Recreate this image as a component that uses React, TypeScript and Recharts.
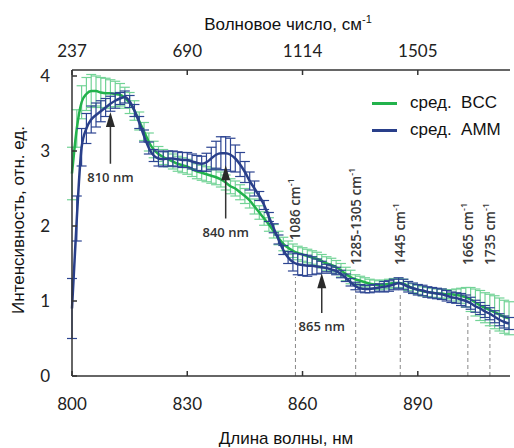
import {
  LineChart, Line, XAxis, YAxis, ErrorBar, ReferenceLine, ReferenceDot, Legend,
} from 'recharts';

// wavelength grid, nm
const WAVELENGTHS = [
  800, 801.25, 802.5, 803.75, 805, 806.25, 807.5, 808.75, 810, 811.25,
  812.5, 813.75, 815, 816.25, 817.5, 818.75, 820, 821.25, 822.5, 823.75,
  825, 826.25, 827.5, 828.75, 830, 831.25, 832.5, 833.75, 835, 836.25,
  837.5, 838.75, 840, 841.25, 842.5, 843.75, 845, 846.25, 847.5, 848.75,
  850, 851.25, 852.5, 853.75, 855, 856.25, 857.5, 858.75, 860, 861.25,
  862.5, 863.75, 865, 866.25, 867.5, 868.75, 870, 871.25, 872.5, 873.75,
  875, 876.25, 877.5, 878.75, 880, 881.25, 882.5, 883.75, 885, 886.25,
  887.5, 888.75, 890, 891.25, 892.5, 893.75, 895, 896.25, 897.5, 898.75,
  900, 901.25, 902.5, 903.75, 905, 906.25, 907.5, 908.75, 910, 911.25,
  912.5, 913.75,
];

const BCC_MEAN = [
  2.7, 3.3, 3.65, 3.76, 3.8, 3.8, 3.78, 3.77, 3.77, 3.76,
  3.75, 3.71, 3.64, 3.54, 3.4, 3.26, 3.12, 3.02, 2.96, 2.92,
  2.89, 2.86, 2.83, 2.81, 2.79, 2.76, 2.73, 2.71, 2.69, 2.67,
  2.65, 2.62, 2.58, 2.53, 2.5, 2.45, 2.4, 2.34, 2.26, 2.18,
  2.1, 2.02, 1.93, 1.84, 1.76, 1.71, 1.67, 1.64, 1.62, 1.6,
  1.58, 1.56, 1.53, 1.5, 1.48, 1.45, 1.41, 1.36, 1.32, 1.29,
  1.27, 1.25, 1.23, 1.22, 1.21, 1.22, 1.23, 1.24, 1.24, 1.23,
  1.2, 1.17, 1.15, 1.13, 1.12, 1.11, 1.1, 1.1, 1.09, 1.09,
  1.08, 1.07, 1.05, 1.02, 0.98, 0.94, 0.91, 0.88, 0.85, 0.82,
  0.79, 0.77,
];

const BCC_ERR = [
  0.35, 0.25, 0.22, 0.22, 0.22, 0.2, 0.2, 0.2, 0.18, 0.17,
  0.15, 0.14, 0.14, 0.13, 0.12, 0.12, 0.12, 0.11, 0.1, 0.1,
  0.1, 0.1, 0.1, 0.1, 0.1, 0.1, 0.1, 0.1, 0.1, 0.1,
  0.1, 0.1, 0.1, 0.1, 0.1, 0.1, 0.1, 0.1, 0.1, 0.09,
  0.09, 0.09, 0.09, 0.09, 0.09, 0.09, 0.09, 0.09, 0.09, 0.09,
  0.09, 0.09, 0.09, 0.09, 0.09, 0.09, 0.09, 0.09, 0.09, 0.06,
  0.06, 0.06, 0.06, 0.06, 0.06, 0.06, 0.06, 0.06, 0.06, 0.06,
  0.06, 0.06, 0.06, 0.06, 0.06, 0.06, 0.06, 0.06, 0.06, 0.06,
  0.08, 0.1, 0.13, 0.16, 0.18, 0.2, 0.2, 0.21, 0.22, 0.22,
  0.22, 0.22,
];

const AMM_MEAN = [
  0.9, 2.1, 3.05, 3.3, 3.42, 3.48, 3.53, 3.58, 3.63, 3.67,
  3.7, 3.72, 3.66, 3.54, 3.38, 3.2, 3.04, 2.94, 2.9, 2.89,
  2.9, 2.9, 2.89, 2.88, 2.88, 2.86, 2.84, 2.83, 2.85, 2.9,
  2.95, 2.97, 2.97, 2.95, 2.9, 2.82, 2.72, 2.6, 2.5, 2.4,
  2.28, 2.12, 1.97, 1.82, 1.68, 1.58, 1.52, 1.49, 1.48, 1.47,
  1.47, 1.46, 1.45, 1.44, 1.42, 1.4, 1.36, 1.31, 1.25, 1.2,
  1.17, 1.16, 1.16, 1.17, 1.18, 1.19, 1.2, 1.22, 1.24, 1.22,
  1.19, 1.17, 1.15, 1.14, 1.12, 1.11, 1.1, 1.09, 1.07, 1.05,
  1.04, 1.02, 1.0, 0.97, 0.93, 0.9, 0.86, 0.83, 0.79, 0.75,
  0.72, 0.7,
];

const AMM_ERR = [
  0.4, 0.3, 0.25, 0.2, 0.18, 0.16, 0.14, 0.12, 0.1, 0.1,
  0.08, 0.08, 0.08, 0.08, 0.08, 0.08, 0.08, 0.08, 0.1, 0.1,
  0.1, 0.1, 0.1, 0.1, 0.1, 0.1, 0.1, 0.1, 0.12, 0.15,
  0.18, 0.22, 0.22, 0.22, 0.18, 0.16, 0.14, 0.12, 0.1, 0.06,
  0.06, 0.06, 0.06, 0.06, 0.06, 0.08, 0.12, 0.14, 0.14, 0.14,
  0.12, 0.1, 0.08, 0.05, 0.05, 0.05, 0.05, 0.05, 0.05, 0.05,
  0.05, 0.05, 0.05, 0.05, 0.05, 0.07, 0.07, 0.07, 0.07, 0.07,
  0.07, 0.07, 0.07, 0.07, 0.07, 0.07, 0.07, 0.07, 0.07, 0.07,
  0.07, 0.08, 0.08, 0.08, 0.08, 0.08, 0.08, 0.08, 0.08, 0.08,
  0.08, 0.08,
];

const NM_TICKS = [800, 830, 860, 890];
const WAVENUMBER_LABELS = ['237', '690', '1114', '1505'];
const Y_TICKS = [0, 1, 2, 3, 4];

// Raman bands (cm-1), shifted from the 785 nm laser line
const LASER_NM = 785;
const BAND_LABELS = ['1086', '1285-1305', '1445', '1665', '1735'];
const BAND_SHIFTS = [1086, 1295, 1445, 1665, 1735];
const BAND_LINE_TOPS = [1.32, 1.15, 1.12, 0.84, 0.75];
const BAND_LABEL_BASES = [1.81, 1.48, 1.48, 1.48, 1.48];

// arrows marking the absorption features
const PEAK_NM = [810, 840, 865];
const PEAK_TAILS = [2.83, 2.1, 0.84];
const PEAK_TIPS = [3.52, 2.81, 1.37];

const SERIES = [
  { key: 'bcc', name: 'сред.  BCC', color: '#22b24c', errColor: '#72d396' },
  { key: 'amm', name: 'сред.  AMM', color: '#293f8a', errColor: '#2d4592' },
];

const rows = WAVELENGTHS.map((nm, i) => ({
  nm,
  bcc: BCC_MEAN[i],
  bccErr: BCC_ERR[i],
  amm: AMM_MEAN[i],
  ammErr: AMM_ERR[i],
}));

const shiftToNm = (shift: number) => 1e7 / (1e7 / LASER_NM - shift);

const AXIS = '#333';
const TICK_STYLE = { fill: '#222', fontSize: 17, fontFamily: 'Lato, sans-serif' };
const TITLE_FONT = "17px 'Liberation Sans', Arial, sans-serif";

function PeakArrow({ x1, y1, x2, y2, text }: any) {
  const head = 15;
  return (
    <g>
      <line x1={x1} y1={y1} x2={x2} y2={y2 + head - 2} stroke="#333" strokeWidth={1.5} />
      <polygon
        points={`${x2},${y2} ${x2 - 4.5},${y2 + head} ${x2 + 4.5},${y2 + head}`}
        fill="#2a2a2a"
      />
      <text
        x={x1}
        y={y1 + 18}
        textAnchor="middle"
        fontFamily="'Open Sans', sans-serif"
        fontWeight={600}
        fontSize={13}
        fill="#333"
      >
        {text}
      </text>
    </g>
  );
}

function BandLine({ x1, y1, x2, y2 }: any) {
  return (
    <line x1={x1} y1={y1} x2={x2} y2={y2} stroke="#888" strokeWidth={1} strokeDasharray="4 3" />
  );
}

function BandLabel({ cx, cy, text }: any) {
  return (
    <text
      x={cx}
      y={cy}
      dy="0.36em"
      transform={`rotate(-90 ${cx} ${cy})`}
      fontFamily="'Open Sans', sans-serif"
      fontWeight={600}
      fontSize={13.5}
      fill="#3a3a3a"
    >
      {text} cm<tspan dy={-6} fontSize={9}>-1</tspan>
    </text>
  );
}

const renderLegend = () => (
  <div style={{ font: TITLE_FONT, color: '#111' }}>
    {SERIES.map((s) => (
      <div key={s.key} style={{ display: 'flex', alignItems: 'center', height: 27 }}>
        <span style={{ width: 25, height: 3, background: s.color, marginRight: 13 }} />
        <span style={{ whiteSpace: 'pre' }}>{s.name}</span>
      </div>
    ))}
  </div>
);

export default function App() {
  return (
    <div style={{ position: 'absolute', left: 0, top: 0, width: 514, height: 448, background: '#fff' }}>
      <LineChart width={514} height={448} data={rows} margin={{ top: 40, right: 4, bottom: 42, left: 12 }}>
        <XAxis
          dataKey="nm"
          type="number"
          domain={[800, 914]}
          ticks={NM_TICKS}
          interval={0}
          tickSize={-5}
          tickMargin={27}
          tick={TICK_STYLE}
          axisLine={{ stroke: AXIS, strokeWidth: 1.5 }}
          tickLine={{ stroke: AXIS, strokeWidth: 1.5 }}
        />
        <XAxis
          xAxisId="top"
          orientation="top"
          dataKey="nm"
          type="number"
          domain={[800, 914]}
          ticks={NM_TICKS}
          interval={0}
          tickSize={-5}
          tickMargin={18}
          tick={TICK_STYLE}
          tickFormatter={(_v: number, i: number) => WAVENUMBER_LABELS[i]}
          axisLine={{ stroke: AXIS, strokeWidth: 1.5 }}
          tickLine={{ stroke: AXIS, strokeWidth: 1.5 }}
        />
        <YAxis
          type="number"
          domain={[0, 4.08]}
          ticks={Y_TICKS}
          interval={0}
          tickSize={-5}
          tickMargin={27}
          tick={TICK_STYLE}
          axisLine={{ stroke: AXIS, strokeWidth: 1.5 }}
          tickLine={{ stroke: AXIS, strokeWidth: 1.5 }}
        />

        {BAND_SHIFTS.map((s, i) => (
          <ReferenceLine
            key={`band-${i}`}
            segment={[{ x: shiftToNm(s), y: 0 }, { x: shiftToNm(s), y: BAND_LINE_TOPS[i] }]}
            shape={(p: any) => <BandLine {...p} />}
          />
        ))}

        {SERIES.map((s) => (
          <Line
            key={s.key}
            type="monotone"
            dataKey={s.key}
            name={s.name}
            stroke={s.color}
            strokeWidth={2.5}
            dot={false}
            isAnimationActive={false}
          >
            <ErrorBar dataKey={`${s.key}Err`} width={5} stroke={s.errColor} strokeWidth={1.2} direction="y" />
          </Line>
        ))}

        {BAND_SHIFTS.map((s, i) => (
          <ReferenceDot
            key={`band-label-${i}`}
            x={shiftToNm(s)}
            y={BAND_LABEL_BASES[i]}
            shape={(p: any) => <BandLabel {...p} text={BAND_LABELS[i]} />}
          />
        ))}

        {PEAK_NM.map((nm, i) => (
          <ReferenceLine
            key={`peak-${i}`}
            segment={[{ x: nm, y: PEAK_TAILS[i] }, { x: nm, y: PEAK_TIPS[i] }]}
            shape={(p: any) => <PeakArrow {...p} text={`${nm} nm`} />}
          />
        ))}

        <Legend
          layout="vertical"
          align="center"
          verticalAlign="middle"
          wrapperStyle={{ left: 372, top: 89.5, width: 142 }}
          content={renderLegend}
        />
      </LineChart>

      <div style={{ position: 'absolute', left: 288, top: 16, transform: 'translateX(-50%)', whiteSpace: 'nowrap', font: TITLE_FONT, lineHeight: '17px', color: '#111' }}>
        Волновое число, см<span style={{ fontSize: 11, position: 'relative', top: -7 }}>-1</span>
      </div>
      <div style={{ position: 'absolute', left: 286, top: 429.5, transform: 'translateX(-50%)', whiteSpace: 'nowrap', font: TITLE_FONT, lineHeight: '17px', color: '#111' }}>
        Длина волны, нм
      </div>
      <div style={{ position: 'absolute', left: 18, top: 220, transform: 'translate(-50%, -50%) rotate(-90deg)', whiteSpace: 'nowrap', font: TITLE_FONT, lineHeight: '17px', color: '#111' }}>
        Интенсивность, отн. ед.
      </div>
    </div>
  );
}
